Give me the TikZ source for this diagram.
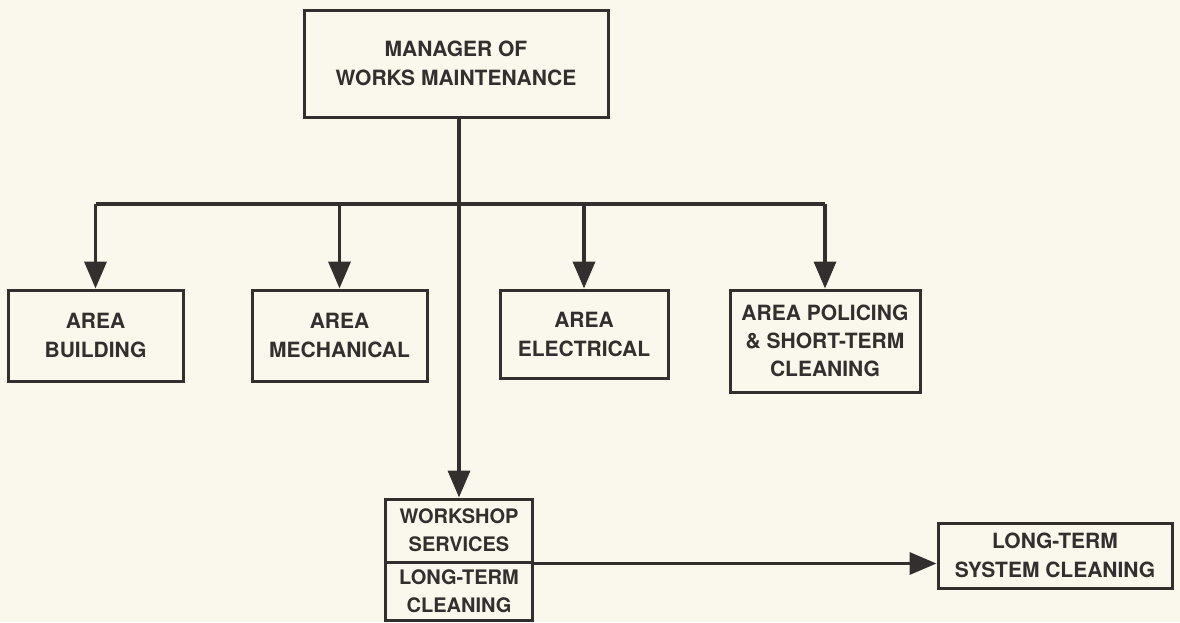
\documentclass[tikz,border=0pt]{standalone}
\usepackage{fontspec}
\setmainfont{TeX Gyre Heros}
\usetikzlibrary{arrows.meta}
\definecolor{paper}{HTML}{FAF8EC}
\definecolor{ink}{HTML}{332F2F}
\begin{document}
\begin{tikzpicture}[x=1pt,y=-1pt,
  box/.style={draw=ink,line width=3pt,rectangle,inner sep=0pt,align=center,
    text=ink,font=\fontsize{21}{29}\selectfont\bfseries},
  link/.style={draw=ink,line width=3.6pt},
  feed/.style={link,-{Triangle[width=22pt,length=27pt]}}]
  % sheet
  \fill[paper] (0,0) rectangle (1180,622);
  \useasboundingbox (0,0) rectangle (1180,622);

  % head of the organisation
  \node[box,minimum width=304pt,minimum height=107pt] (mgr) at (456,63.5)
    {MANAGER OF\\WORKS MAINTENANCE};

  % area sections
  \node[box,minimum width=175pt,minimum height=91pt] (bld) at (95.5,335.5)
    {AREA\\BUILDING};
  \node[box,minimum width=175pt,minimum height=91pt] (mech) at (339.5,335.5)
    {AREA\\MECHANICAL};
  \node[box,minimum width=168pt,minimum height=88pt] (elec) at (584,334)
    {AREA\\ELECTRICAL};
  \node[box,minimum width=190pt,minimum height=102pt,
        font=\fontsize{21}{28}\selectfont\bfseries] (pol) at (825,341)
    {AREA POLICING\\\& SHORT-TERM\\CLEANING};

  % workshop block, split in two
  \node[box,minimum width=147pt,minimum height=63pt,
        font=\fontsize{20}{28}\selectfont\bfseries] (wsa) at (459,530.5)
    {WORKSHOP\\SERVICES};
  \node[box,minimum width=147pt,minimum height=58pt,
        font=\fontsize{20}{28}\selectfont\bfseries] (wsb) at (459,591)
    {LONG-TERM\\CLEANING};

  \node[box,minimum width=234pt,minimum height=65pt] (sys) at (1055,555.5)
    {LONG-TERM\\SYSTEM CLEANING};

  % distribution bar
  \coordinate (jn) at (459,204);
  \draw[link] (bld.north |- jn) -- (pol.north |- jn);

  % connectors
  \draw[feed] (mgr.south -| wsa.north) -- (wsa.north);
  \draw[feed] (bld.north |- jn) -- (bld.north);
  \draw[feed] (mech.north |- jn) -- (mech.north);
  \draw[feed] (elec.north |- jn) -- (elec.north);
  \draw[feed] (pol.north |- jn) -- (pol.north);
  \draw[feed] (wsa.south east) -- (sys.west |- wsa.south east);
\end{tikzpicture}
\end{document}
